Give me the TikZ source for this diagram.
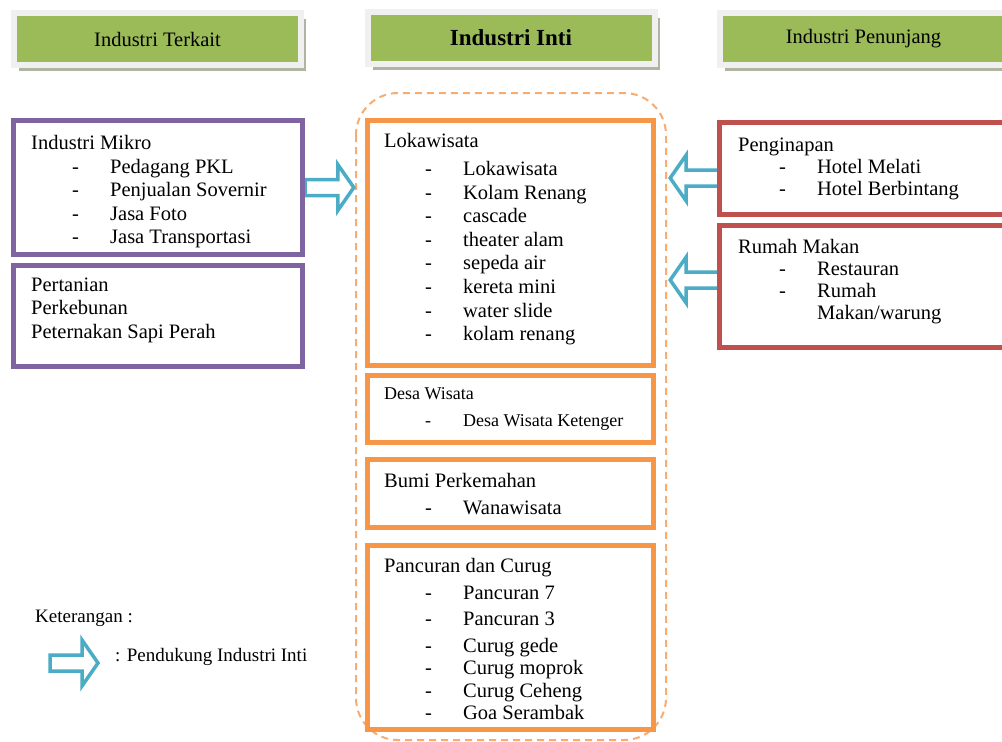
\documentclass[tikz,border=0pt]{standalone}
\usepackage{fontspec}
\setmainfont{Liberation Serif}
\usetikzlibrary{calc,shadows}
\definecolor{hgreen}{HTML}{9BBB59}
\definecolor{hframe}{HTML}{F0F0F0}
\definecolor{hshadow}{HTML}{AEB5A2}
\definecolor{purp}{HTML}{8064A2}
\definecolor{oran}{HTML}{F79646}
\definecolor{oranlight}{HTML}{F9AC70}
\definecolor{redb}{HTML}{C0504D}
\definecolor{aqua}{HTML}{4BACC6}
\newcommand{\dashitem}[1]{\hspace*{41pt}\makebox[38pt][l]{-}#1}
\newcommand{\fatarrow}[2]{%
  \draw[fat] let \p1=#1, \p2=#2, \p3=($(\x2,\y1)!16pt!(\x1,\y1)$) in
   (\x1,\y1+8pt) -- (\x3,\y1+8pt) -- (\x3,\y1+23pt) -- (\x2,\y1) --
   (\x3,\y1-23pt) -- (\x3,\y1-8pt) -- (\x1,\y1-8pt) -- cycle;}
\begin{document}
\begin{tikzpicture}[x=1pt,y=-1pt,
  hdr/.style={fill=hgreen,draw=hframe,line width=6pt,minimum width=287,minimum height=52,
    inner sep=0,font=\fontsize{20.5}{24}\selectfont,
    general shadow={fill=hshadow,shadow xshift=5pt,shadow yshift=-6pt}},
  box/.style={draw=#1,line width=5pt,fill=white,inner sep=0},
  txt/.style={anchor=north west,inner sep=0,align=left,font=\fontsize{20.5}{23.5}\selectfont},
  fat/.style={draw=aqua,fill=white,line width=3.5pt,line join=miter},
  core/.style={draw=oranlight,line width=2pt,dash pattern=on 7pt off 5pt,rounded corners=42pt}]
\clip (0,0) rectangle (1002,742);
\fill[white] (0,0) rectangle (1002,742);
\node[hdr] (terkait) at (157.5,39) {Industri Terkait};
\node[hdr,font=\fontsize{23}{26}\selectfont\bfseries] (inti) at (511,38) {Industri Inti};
\node[hdr] (penunjang) at (863.5,39) {Industri Penunjang};
\draw[core] (356,93) rectangle (666,740);
\node[inner sep=0,minimum width=310,minimum height=647] (frame) at (511,416.5) {};
\fatarrow{(305,187.5)}{($(frame.west)+(-2,0)$)}
\fatarrow{(719,178)}{($(frame.east)+(4,0)$)}
\fatarrow{(719,280)}{($(frame.east)+(4,0)$)}
\node[box=purp,minimum width=289,minimum height=134] (mikro) at (158,187.5) {};
\node[box=purp,minimum width=289,minimum height=101] (tani) at (158,316) {};
\node[box=oran,minimum width=286,minimum height=245] (loka) at (510.5,243) {};
\node[box=oran,minimum width=286,minimum height=67] (desa) at (510.5,409) {};
\node[box=oran,minimum width=286,minimum height=68] (bumi) at (510.5,493.5) {};
\node[box=oran,minimum width=286,minimum height=184] (pancuran) at (510.5,637.5) {};
\node[box=redb,minimum width=290,minimum height=92] (inap) at (864.5,168.5) {};
\node[box=redb,minimum width=290,minimum height=122] (makan) at (864.5,286.5) {};
\node[txt] (mikro-t) at (31,135.5) {Industri Mikro\\ \dashitem{Pedagang PKL}\\ \dashitem{Penjualan Sovernir}\\
  \dashitem{Jasa Foto}\\ \dashitem{Jasa Transportasi}};
\node[txt] (tani-t) at (31,277.5) {Pertanian\\ Perkebunan\\ Peternakan Sapi Perah};
\node[txt,font=\fontsize{20.5}{23.6}\selectfont] (loka-t) at (384,133) {Lokawisata\\[4.5pt] \dashitem{Lokawisata}\\
  \dashitem{Kolam Renang}\\ \dashitem{cascade}\\ \dashitem{theater alam}\\ \dashitem{sepeda air}\\
  \dashitem{kereta mini}\\ \dashitem{water slide}\\ \dashitem{kolam renang}};
\node[txt,font=\fontsize{18}{23}\selectfont] (desa-t) at (384,387) {Desa Wisata\\[4pt] \dashitem{Desa Wisata Ketenger}};
\node[txt] (bumi-t) at (384,473) {Bumi Perkemahan\\[3.5pt] \dashitem{Wanawisata}};
\node[txt,font=\fontsize{20.5}{22.5}\selectfont] (pancuran-t) at (384,558) {Pancuran dan Curug\\[4.5pt]
  \dashitem{Pancuran 7}\\[3.5pt] \dashitem{Pancuran 3}\\[4.5pt] \dashitem{Curug gede}\\ \dashitem{Curug moprok}\\
  \dashitem{Curug Ceheng}\\ \dashitem{Goa Serambak}};
\node[txt,font=\fontsize{20.5}{22}\selectfont] (inap-t) at (738,137.5) {Penginapan\\ \dashitem{Hotel Melati}\\
  \dashitem{Hotel Berbintang}};
\node[txt,font=\fontsize{20.5}{22}\selectfont] (makan-t) at (738,239.5) {Rumah Makan\\ \dashitem{Restauran}\\
  \dashitem{Rumah}\\ \hspace*{79pt}Makan/warung};
\node[txt,font=\fontsize{19}{22}\selectfont] (ket) at (35,610) {Keterangan :};
\coordinate (keyfrom) at (50,663);
\coordinate (keyto) at (98,663);
\fatarrow{(keyfrom)}{(keyto)}
\node[txt,font=\fontsize{19}{22}\selectfont] (ket-t) at (115,648) {: Pendukung Industri Inti};
\end{tikzpicture}
\end{document}
